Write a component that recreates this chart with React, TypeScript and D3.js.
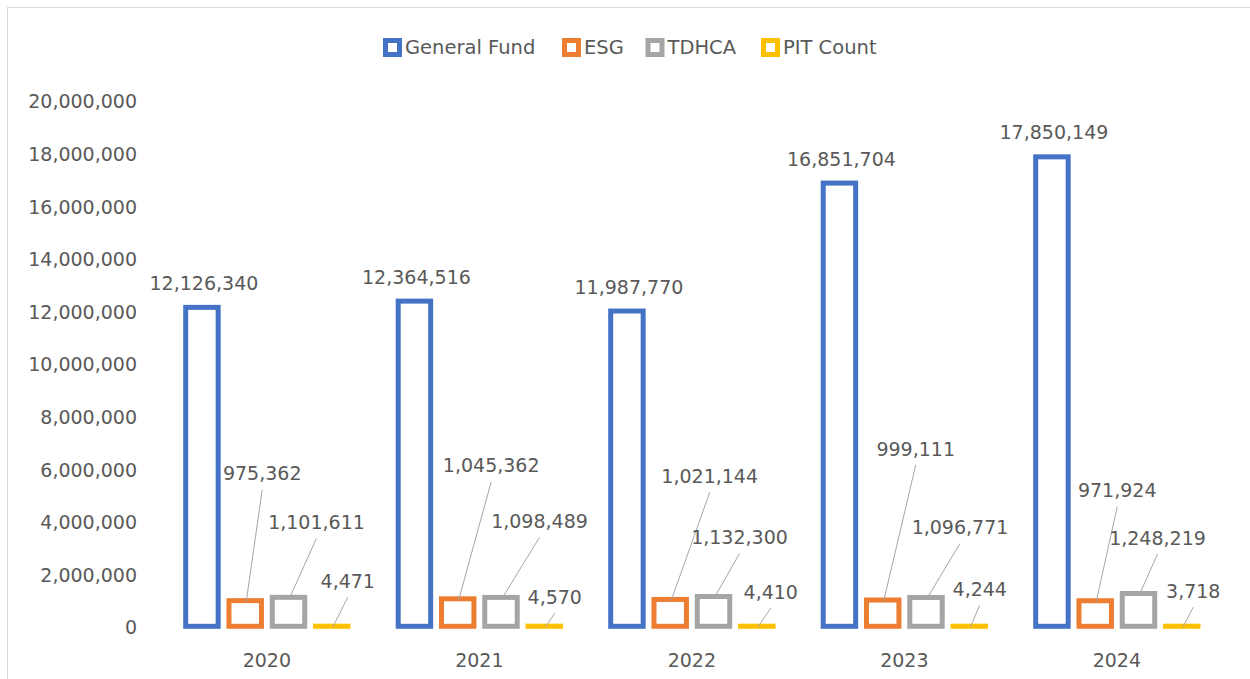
import * as d3 from 'd3';

// categories and series
const years = ['2020', '2021', '2022', '2023', '2024'];
const seriesNames = ['General Fund', 'ESG', 'TDHCA', 'PIT Count'];
const generalFund = [12126340, 12364516, 11987770, 16851704, 17850149];
const esg = [975362, 1045362, 1021144, 999111, 971924];
const tdhca = [1101611, 1098489, 1132300, 1096771, 1248219];
const pitCount = [4471, 4570, 4410, 4244, 3718];
const yTicks = [0, 2e6, 4e6, 6e6, 8e6, 10e6, 12e6, 14e6, 16e6, 18e6, 20e6];

const colors = ['#4472C4', '#ED7D31', '#A5A5A5', '#FFC000'];

// manual data-label placement (px offset from bar top centre), as moved in the original
const labelDx = [
  [2, 2, 2, 2, 2],
  [17, 33.5, 39.5, 33, 22],
  [28, 38.5, 26, 34, 19],
  [16, 10.5, 14, 10.5, 11.5],
];
const labelDy = [
  [-24, -24, -24, -24, -24],
  [-127, -133, -123, -151, -110],
  [-75, -76, -59, -70, -55.5],
  [-45, -29, -34, -37, -35],
];

const font = 'DejaVu Sans, Verdana, sans-serif';
const textColor = '#595959';
const fmt = d3.format(',');

export default function App() {
  const W = 1250;
  const H = 679;
  const values = [generalFund, esg, tdhca, pitCount];

  const x = d3.scaleBand().domain(years).range([160.6, 1223.1]);
  const xs = d3
    .scaleBand()
    .domain(seriesNames)
    .range([0, x.bandwidth()])
    .paddingInner(0.25)
    .paddingOuter(0.58);
  const y = d3.scaleLinear().domain([0, 20e6]).range([626.3, 100.3]);

  const legendX = [383, 562, 645.5, 761];

  return (
    <svg
      width={W}
      height={H}
      style={{ position: 'absolute', left: 0, top: 0, background: '#fff' }}
      fontFamily={font}
    >
      <rect x={7.5} y={7.5} width={W + 20} height={H + 20} fill="#fff" stroke="#d9d9d9" />

      {/* legend */}
      {seriesNames.map((name, i) => (
        <g key={name}>
          <rect
            x={legendX[i] + 2.5}
            y={40.5}
            width={14}
            height={14}
            fill="#fff"
            stroke={colors[i]}
            strokeWidth={5}
          />
          <text x={legendX[i] + 22} y={47.5} dy="0.35em" fontSize={19.5} fill={textColor}>
            {name}
          </text>
        </g>
      ))}

      {/* y axis labels */}
      {yTicks.map((t) => (
        <text
          key={t}
          x={137}
          y={y(t) + 1.5}
          dy="0.35em"
          textAnchor="end"
          fontSize={19}
          fill={textColor}
        >
          {fmt(t)}
        </text>
      ))}

      {/* x axis labels */}
      {years.map((yr) => (
        <text
          key={yr}
          x={(x(yr) as number) + x.bandwidth() / 2}
          y={660.5}
          dy="0.35em"
          textAnchor="middle"
          fontSize={19}
          fill={textColor}
        >
          {yr}
        </text>
      ))}

      {/* bars */}
      {seriesNames.map((name, si) =>
        years.map((yr, ci) => {
          const bx = (x(yr) as number) + (xs(name) as number);
          const top = y(values[si][ci]);
          return (
            <rect
              key={name + yr}
              x={bx}
              y={top}
              width={xs.bandwidth()}
              height={Math.max(0.1, y(0) - top)}
              fill="#fff"
              stroke={colors[si]}
              strokeWidth={5}
            />
          );
        })
      )}

      {/* data labels + leader lines */}
      {seriesNames.map((name, si) =>
        years.map((yr, ci) => {
          const cx = (x(yr) as number) + (xs(name) as number) + xs.bandwidth() / 2;
          const top = y(values[si][ci]);
          const lx = cx + labelDx[si][ci];
          const ly = top + labelDy[si][ci];
          return (
            <g key={'l' + name + yr}>
              {si > 0 && (
                <line x1={cx + 1} y1={top + 1} x2={lx} y2={ly + 16} stroke="#a6a6a6" strokeWidth={1} />
              )}
              <text x={lx} y={ly} dy="0.35em" textAnchor="middle" fontSize={19} fill={textColor}>
                {fmt(values[si][ci])}
              </text>
            </g>
          );
        })
      )}
    </svg>
  );
}
